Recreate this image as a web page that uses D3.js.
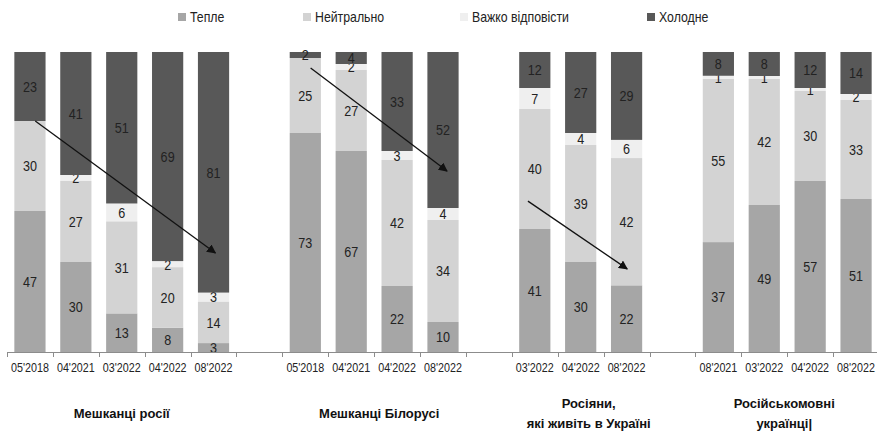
<!DOCTYPE html>
<html>
<head>
<meta charset="utf-8">
<script src="https://cdn.jsdelivr.net/npm/d3@7"></script>
<style>
  body { margin: 0; background: #fff; }
  svg { display: block; font-family: 'Liberation Sans', Arial, sans-serif; }
</style>
</head>
<body>
<div id="chart"></div>
<script>
const periods = ["05'2018", "04'2021", "03'2022", "04'2022", "08'2022",
  "05'2018", "04'2021", "04'2022", "08'2022",
  "03'2022", "04'2022", "08'2022",
  "08'2021", "03'2022", "04'2022", "08'2022"];
const groupSizes = [5, 4, 3, 4];
const groupTitles = [
  ['Мешканці росії'],
  ['Мешканці Білорусі'],
  ['Росіяни,', 'які живіть в Україні'],
  ['Російськомовні', 'українці|']
];

const seriesNames = ['Тепле', 'Нейтрально', 'Важко відповісти', 'Холодне'];
const warm    = [47, 30, 13, 8, 3, 73, 67, 22, 10, 41, 30, 22, 37, 49, 57, 51];
const neutral = [30, 27, 31, 20, 14, 25, 27, 42, 34, 40, 39, 42, 55, 42, 30, 33];
const hard    = [0, 2, 6, 2, 3, 0, 2, 3, 4, 7, 4, 6, 1, 1, 1, 2];
const cold    = [23, 41, 51, 69, 81, 2, 4, 33, 52, 12, 27, 29, 8, 8, 12, 14];

// trend arrows: [bar index, share from bottom] -> [bar index, share]
const arrows = [
  { from: [0, 0.77], to: [4, 0.33], dx: [0.17, 0.06] },
  { from: [5, 0.947], to: [8, 0.603], dx: [0.17, 0.13] },
  { from: [9, 0.503], to: [11, 0.277], dx: [-0.22, 0.02] }
];

const width = 877;
const height = 433;
const colours = d3.scaleOrdinal()
  .domain(seriesNames)
  .range(['#a6a6a6', '#d3d3d3', '#efefef', '#585858']);

// one slot per bar, plus an empty slot between groups
const slots = [];
const barSlot = [];
let bar = 0;
groupSizes.forEach((n, g) => {
  for (let i = 0; i < n; i++) {
    barSlot.push(slots.length);
    slots.push({ key: 's' + slots.length, bar: bar++, group: g });
  }
  if (g < groupSizes.length - 1) slots.push({ key: 's' + slots.length, bar: null, group: g });
});

const rows = periods.map((p, i) => ({
  key: slots[barSlot[i]].key,
  period: p,
  'Тепле': warm[i],
  'Нейтрально': neutral[i],
  'Важко відповісти': hard[i],
  'Холодне': cold[i]
}));

const xScale = d3.scaleBand()
  .domain(slots.map(s => s.key))
  .range([7, 879])
  .paddingInner(0.32)
  .paddingOuter(0.16);
const edge = (xScale.step() - xScale.bandwidth()) / 2;
const mid = key => xScale(key) + xScale.bandwidth() / 2;

const yScale = d3.scaleLinear()
  .domain([0, 1])
  .range([352, 52]);

const stacked = d3.stack()
  .keys(seriesNames)
  .offset(d3.stackOffsetExpand)(rows);

// the original uses a narrow face; squeeze Liberation Sans instead
const squeeze = (sx, fx, fy) => (d, i) => `translate(${fx(d, i)},${fy(d, i)}) scale(${sx},1)`;

const svg = d3.select('#chart').append('svg')
  .attr('width', width)
  .attr('height', height);

svg.append('defs').append('marker')
  .attr('id', 'head')
  .attr('viewBox', '0 0 10 10')
  .attr('refX', 9)
  .attr('refY', 5)
  .attr('markerWidth', 7)
  .attr('markerHeight', 7)
  .attr('orient', 'auto')
  .append('path')
  .attr('d', 'M0,0 L10,5 L0,10 Z')
  .attr('fill', '#111');

const layers = svg.append('g').selectAll('g')
  .data(stacked)
  .enter().append('g')
  .style('fill', d => colours(d.key));

layers.selectAll('rect')
  .data(d => d)
  .enter().append('rect')
  .attr('x', d => xScale(d.data.key))
  .attr('width', xScale.bandwidth())
  .attr('y', d => yScale(d[1]))
  .attr('height', d => yScale(d[0]) - yScale(d[1]));

// value labels
layers.each(function(layer) {
  d3.select(this).selectAll('text')
    .data(layer.filter(d => d.data[layer.key] > 0))
    .enter().append('text')
    .attr('transform', squeeze(0.84, d => mid(d.data.key), d => (yScale(d[0]) + yScale(d[1])) / 2))
    .attr('dy', '0.36em')
    .attr('text-anchor', 'middle')
    .style('fill', '#222')
    .style('font-size', '15px')
    .text(d => d.data[layer.key]);
});

// axis: line and tick at every slot boundary
const axis = svg.append('g');
axis.append('line')
  .attr('x1', xScale.range()[0])
  .attr('x2', xScale.range()[1])
  .attr('y1', yScale(0) + 0.5)
  .attr('y2', yScale(0) + 0.5)
  .attr('stroke', '#8c8c8c');
axis.selectAll('.tick')
  .data(slots)
  .enter().append('line')
  .attr('class', 'tick')
  .attr('x1', d => Math.round(xScale(d.key) - edge) + 0.5)
  .attr('x2', d => Math.round(xScale(d.key) - edge) + 0.5)
  .attr('y1', yScale(0))
  .attr('y2', yScale(0) + 5)
  .attr('stroke', '#8c8c8c');
axis.selectAll('text')
  .data(rows)
  .enter().append('text')
  .attr('transform', squeeze(0.86, d => mid(d.key), () => yScale(0) + 20))
  .attr('text-anchor', 'middle')
  .style('font-size', '12.5px')
  .style('fill', '#222')
  .text(d => d.period);

// group titles
const titleShift = [0, 5, 8, -3];
groupTitles.forEach((lines, g) => {
  const inGroup = slots.filter(s => s.group === g && s.bar !== null);
  const cx = (xScale(inGroup[0].key) + xScale(inGroup[inGroup.length - 1].key) + xScale.bandwidth()) / 2 + titleShift[g];
  const top = lines.length === 1 ? 418 : 408;
  svg.append('text')
    .attr('text-anchor', 'middle')
    .style('font-weight', 'bold')
    .style('font-size', '13px')
    .style('fill', '#111')
    .selectAll('tspan')
    .data(lines)
    .enter().append('tspan')
    .attr('x', cx)
    .attr('y', (d, i) => top + i * 20)
    .text(d => d);
});

// trend arrows
svg.append('g').selectAll('line')
  .data(arrows)
  .enter().append('line')
  .attr('x1', d => xScale(rows[d.from[0]].key) + xScale.bandwidth() * (0.5 + d.dx[0]))
  .attr('y1', d => yScale(d.from[1]))
  .attr('x2', d => xScale(rows[d.to[0]].key) + xScale.bandwidth() * (0.5 + d.dx[1]))
  .attr('y2', d => yScale(d.to[1]))
  .attr('stroke', '#111')
  .attr('stroke-width', 1.3)
  .attr('marker-end', 'url(#head)');

// legend
const legendX = [178, 303, 460, 647];
const legend = svg.append('g').selectAll('g')
  .data(seriesNames)
  .enter().append('g')
  .attr('transform', (d, i) => `translate(${legendX[i]},13)`);
legend.append('rect')
  .attr('width', 8)
  .attr('height', 8)
  .style('fill', d => colours(d));
legend.append('text')
  .attr('transform', 'translate(12,8.5) scale(0.88,1)')
  .style('font-size', '14px')
  .style('fill', '#222')
  .text(d => d);
</script>
</body>
</html>
